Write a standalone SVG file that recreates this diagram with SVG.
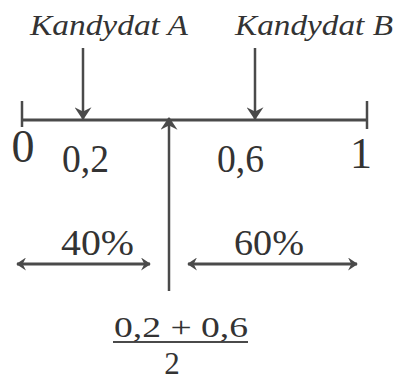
<svg xmlns="http://www.w3.org/2000/svg" width="396" height="381" viewBox="0 0 396 381">
<style>
.t{font-family:"Liberation Serif","Times New Roman",serif;fill:#333333}
.it{font-style:italic}
.ln{stroke:#4a4a4a;fill:none}
</style>
<defs>
<marker id="ah" viewBox="0 0 12 16" refX="11" refY="8" markerWidth="13" markerHeight="17" markerUnits="userSpaceOnUse" orient="auto-start-reverse">
<path d="M0,0 L12,8 L0,16 L4,8 z" fill="#4a4a4a"/>
</marker>
<marker id="ah2" viewBox="0 0 12 16" refX="11" refY="8" markerWidth="11" markerHeight="13" markerUnits="userSpaceOnUse" orient="auto-start-reverse">
<path d="M0,0 L12,8 L0,16 L4,8 z" fill="#4a4a4a"/>
</marker>
</defs>
<rect width="396" height="381" fill="#ffffff"/>
<g id="axis">
<line class="ln" x1="22" y1="120" x2="368" y2="120" stroke-width="3"/>
<line class="ln" x1="22" y1="101" x2="22" y2="127" stroke-width="2.5"/>
<line class="ln" x1="367" y1="101" x2="367" y2="129" stroke-width="2.5"/>
</g>
<g id="connectors">
<line class="ln" x1="83" y1="48" x2="83" y2="119" stroke-width="2.5" marker-end="url(#ah)"/>
<line class="ln" x1="255" y1="48" x2="255" y2="119" stroke-width="2.5" marker-end="url(#ah)"/>
<line class="ln" x1="169" y1="291" x2="169" y2="118" stroke-width="2.5" marker-end="url(#ah)"/>
<line class="ln" x1="17" y1="264" x2="150" y2="264" stroke-width="3" marker-start="url(#ah2)" marker-end="url(#ah2)"/>
<line class="ln" x1="188" y1="264" x2="357" y2="264" stroke-width="3" marker-start="url(#ah2)" marker-end="url(#ah2)"/>
<line class="ln" x1="113" y1="342" x2="248" y2="342" stroke-width="2"/>
</g>
<g id="candA"><text class="t it" x="30" y="35" font-size="30" textLength="158" lengthAdjust="spacingAndGlyphs">Kandydat A</text></g>
<g id="candB"><text class="t it" x="235" y="35" font-size="30" textLength="158" lengthAdjust="spacingAndGlyphs">Kandydat B</text></g>
<g id="l0"><text class="t" x="23" y="162" font-size="46" text-anchor="middle">0</text></g>
<g id="l02"><text class="t" x="62" y="172" font-size="40" textLength="47" lengthAdjust="spacingAndGlyphs">0,2</text></g>
<g id="l06"><text class="t" x="217" y="172" font-size="40" textLength="47" lengthAdjust="spacingAndGlyphs">0,6</text></g>
<g id="l1"><text class="t" x="361" y="168" font-size="44" text-anchor="middle">1</text></g>
<g id="p40"><text class="t" x="61" y="255" font-size="35" textLength="73" lengthAdjust="spacingAndGlyphs">40%</text></g>
<g id="p60"><text class="t" x="234" y="255" font-size="35" textLength="70" lengthAdjust="spacingAndGlyphs">60%</text></g>
<g id="frac">
<text class="t" x="114" y="337" font-size="30" textLength="134" lengthAdjust="spacingAndGlyphs">0,2 + 0,6</text>
<text class="t" x="172" y="374" font-size="31" text-anchor="middle">2</text>
</g>
</svg>
